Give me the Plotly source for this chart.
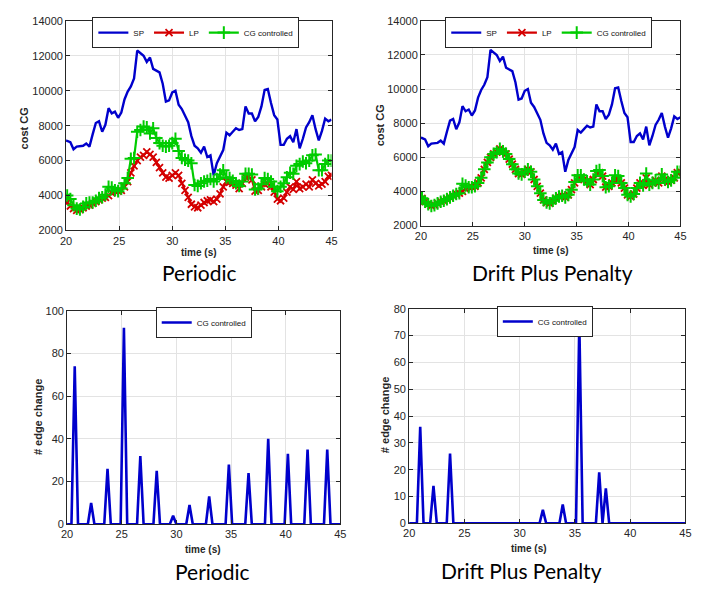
import plotly.graph_objects as go

# page body has an 8px default margin, so the figure is 8px smaller than the window
W, H = 706, 583
OFF = 8

# ---------------- data ----------------
time_s = [19.8, 20.1, 20.4, 20.7, 21.0, 21.3, 21.6, 21.9, 22.2, 22.5,
          22.8, 23.1, 23.4, 23.7, 24.0, 24.3, 24.6, 24.9, 25.2, 25.5,
          25.8, 26.1, 26.4, 26.7, 27.0, 27.3, 27.6, 27.9, 28.2, 28.5,
          28.8, 29.1, 29.4, 29.7, 30.0, 30.3, 30.6, 30.9, 31.2, 31.5,
          31.8, 32.1, 32.4, 32.7, 33.0, 33.3, 33.6, 33.9, 34.2, 34.5,
          34.8, 35.1, 35.4, 35.7, 36.0, 36.3, 36.6, 36.9, 37.2, 37.5,
          37.8, 38.1, 38.4, 38.7, 39.0, 39.3, 39.6, 39.9, 40.2, 40.5,
          40.8, 41.1, 41.4, 41.7, 42.0, 42.3, 42.6, 42.9, 43.2, 43.5,
          43.8, 44.1, 44.4, 44.7, 45.0]

sp_cost = [7150, 7130, 7050, 6650, 6800, 6820, 6850, 6980, 6800, 7500,
           8150, 8250, 7650, 8050, 9000, 8700, 8800, 8450, 8750, 9500,
           9950, 10250, 10700, 12300, 12150, 12000, 11650, 11900, 11250, 11150,
           11050, 10400, 9380, 9450, 9900, 10000, 9200, 8950, 8600, 8200,
           7400, 6850, 6700, 6450, 6800, 6200, 6300, 5150, 5850, 6250,
           6600, 7600, 7450, 7650, 7850, 7750, 7800, 9100, 8700, 8700,
           8250, 8500, 9100, 10050, 10100, 9300, 8600, 8350, 6900, 6900,
           7250, 7400, 7050, 7800, 6700, 7250, 7900, 8200, 8600, 7800,
           7150, 7700, 8400, 8250, 8350]

lp_cost = [3700, 3600, 3400, 3250, 3150, 3200, 3300, 3400, 3450, 3550,
           3650, 3750, 3850, 3900, 4000, 4150, 4250, 4250, 4300, 4500,
           4800, 5300, 5700, 6000, 6200, 6300, 6500, 6350, 6200, 5900,
           5600, 5300, 5050, 5000, 5150, 5300, 5150, 4700, 4300, 3900,
           3500, 3350, 3300, 3450, 3600, 3700, 3750, 3650, 3800, 4100,
           4500, 4800, 4750, 4700, 4600, 4400, 4700, 5050, 5100, 4900,
           4250, 4300, 4500, 4650, 4700, 4500, 4200, 3800, 3700, 3850,
           4200, 4500, 4350, 4800, 4400, 4500, 4650, 4500, 4900, 4700,
           4550, 4650, 4800, 5100, 5150]

cg_cost_periodic = [4050, 4000, 3800, 3450, 3250, 3200, 3350, 3550, 3600, 3600,
                    3700, 3850, 3900, 4050, 4500, 4450, 4300, 4250, 4400, 4700,
                    5000, 6100, 6150, 7650, 7750, 7950, 7900, 7550, 7850, 7300,
                    7000, 6850, 6800, 6850, 7000, 7250, 6550, 6150, 6050, 6000,
                    5850, 4600, 4550, 4700, 4800, 4850, 4950, 4800, 4950, 5200,
                    5450, 5050, 5000, 4850, 4700, 4550, 4800, 5250, 5250, 5200,
                    4350, 4400, 4650, 5000, 4950, 4800, 4500, 4250, 4500, 4700,
                    5050, 5300, 5250, 5700, 5800, 5950, 5850, 6000, 6300, 6350,
                    5450, 5450, 5800, 6000, 6000]

cg_cost_dpp = [3700, 3600, 3400, 3250, 3150, 3200, 3300, 3400, 3450, 3550,
               3650, 3750, 3850, 3900, 4450, 4350, 4250, 4250, 4300, 4500,
               4800, 5300, 5700, 6000, 6200, 6300, 6500, 6350, 6200, 5900,
               5600, 5300, 5050, 5000, 5150, 5300, 5150, 4700, 4300, 3900,
               3500, 3350, 3300, 3450, 3600, 3700, 3750, 3650, 3800, 4100,
               4550, 4950, 4950, 4700, 4600, 4400, 4700, 5200, 5250, 4900,
               4250, 4300, 4500, 4950, 4900, 4500, 4200, 3800, 3700, 3850,
               4200, 4500, 4350, 5050, 4400, 4500, 4650, 4500, 5000, 4700,
               4550, 4650, 4800, 5150, 5150]

edge_periodic = [0, 0, 0, 74, 0, 0, 0, 0, 10, 0,
                 0, 0, 0, 26, 0, 0, 0, 0, 92, 0,
                 0, 0, 0, 32, 0, 0, 0, 0, 25, 0,
                 0, 0, 0, 4, 0, 0, 0, 0, 9, 0,
                 0, 0, 0, 0, 13, 0, 0, 0, 0, 0,
                 28, 0, 0, 0, 0, 0, 24, 0, 0, 0,
                 0, 0, 40, 0, 0, 0, 0, 0, 33, 0,
                 0, 0, 0, 0, 35, 0, 0, 0, 0, 0,
                 35, 0, 0, 0, 0]

edge_dpp = [0, 0, 0, 0, 36, 0, 0, 0, 14, 0,
            0, 0, 0, 26, 0, 0, 0, 0, 0, 0,
            0, 0, 0, 0, 0, 0, 0, 0, 0, 0,
            0, 0, 0, 0, 0, 0, 0, 0, 0, 0,
            0, 5, 0, 0, 0, 0, 0, 7, 0, 0,
            0, 0, 75, 0, 0, 0, 0, 0, 19, 0,
            13, 0, 0, 0, 0, 0, 0, 0, 0, 0,
            0, 0, 0, 0, 0, 0, 0, 0, 0, 0,
            0, 0, 0, 0, 0]

x_ticks = [20, 25, 30, 35, 40, 45]
cost_ticks = [2000, 4000, 6000, 8000, 10000, 12000, 14000]
edge_ticks_periodic = [0, 20, 40, 60, 80, 100]
edge_ticks_dpp = [0, 10, 20, 30, 40, 50, 60, 70, 80]

# ---------------- style ----------------
BLUE = "#0000cc"
RED = "#d40000"
GREEN = "#00cc00"
AX = "#262626"
FONT = "Arial"

def px_x(p):
    return (p - OFF) / W

def px_y(p):
    return 1 - (p - OFF) / H

fig = go.Figure()

def cost_traces(xa, ya, cg, leg):
    fig.add_trace(go.Scatter(x=time_s, y=sp_cost, mode="lines", name="SP",
                             line=dict(color=BLUE, width=2.4),
                             xaxis=xa, yaxis=ya, legend=leg))
    fig.add_trace(go.Scatter(x=time_s, y=lp_cost, mode="lines+markers", name="LP",
                             line=dict(color=RED, width=2.2),
                             marker=dict(symbol="x-thin", size=7, color=RED,
                                         line=dict(color=RED, width=1.8)),
                             xaxis=xa, yaxis=ya, legend=leg))
    fig.add_trace(go.Scatter(x=time_s, y=cg, mode="lines+markers", name="CG controlled",
                             line=dict(color=GREEN, width=2.2),
                             marker=dict(symbol="cross-thin", size=9, color=GREEN,
                                         line=dict(color=GREEN, width=2)),
                             xaxis=xa, yaxis=ya, legend=leg))

cost_traces("x", "y", cg_cost_periodic, "legend")
cost_traces("x2", "y2", cg_cost_dpp, "legend2")

fig.add_trace(go.Scatter(x=time_s, y=edge_periodic, mode="lines", name="CG controlled",
                         line=dict(color=BLUE, width=2.6),
                         xaxis="x3", yaxis="y3", legend="legend3"))
fig.add_trace(go.Scatter(x=time_s, y=edge_dpp, mode="lines", name="CG controlled",
                         line=dict(color=BLUE, width=2.6),
                         xaxis="x4", yaxis="y4", legend="legend4"))

def axis(domain, rng, ticks, anchor):
    return dict(domain=domain, range=rng, tickvals=ticks, anchor=anchor, tickformat="d",
                showline=True, mirror="allticks", linecolor=AX, linewidth=1,
                ticks="inside", ticklen=4, tickcolor=AX, tickwidth=1,
                showgrid=True, gridcolor="#e3e3e3", gridwidth=1, zeroline=False,
                tickfont=dict(family=FONT, size=11, color=AX))

boxes = {
    1: (61, 331, 15, 229),
    2: (422, 686, 15, 224),
    3: (62, 340, 311, 529),
    4: (410, 691, 309, 528),
}
ranges = {1: ([2000, 14000], cost_ticks), 2: ([2000, 14000], cost_ticks),
          3: ([0, 100], edge_ticks_periodic), 4: ([0, 80], edge_ticks_dpp)}

layout = {}
for i, (x0, x1, y0, y1) in boxes.items():
    sfx = "" if i == 1 else str(i)
    layout["xaxis" + sfx] = axis([px_x(x0), px_x(x1)], [20, 45], x_ticks, "y" + sfx)
    yr, yt = ranges[i]
    layout["yaxis" + sfx] = axis([px_y(y1), px_y(y0)], yr, yt, "x" + sfx)

def legend(cx, cy):
    return dict(orientation="h", x=px_x(cx), y=px_y(cy), xanchor="center", yanchor="middle",
                bgcolor="white", bordercolor=AX, borderwidth=1,
                font=dict(family=FONT, size=8, color="#111111"),
                itemwidth=30, tracegroupgap=0)

layout["legend"] = legend(193, 27)
layout["legend2"] = legend(552, 27)
layout["legend3"] = legend(201, 323)
layout["legend4"] = legend(548, 322)

annotations = []

def text(s, x, y, size, bold=False, angle=0, family=FONT):
    annotations.append(dict(text=("<b>%s</b>" % s) if bold else s, x=px_x(x), y=px_y(y),
                            xref="paper", yref="paper", showarrow=False,
                            xanchor="center", yanchor="middle", textangle=angle,
                            font=dict(family=family, size=size, color="#000000" if not bold else AX)))

text("cost CG", 18, 125, 11, bold=True, angle=-90)
text("cost CG", 380, 122, 11, bold=True, angle=-90)
text("time (s)", 196, 252, 10, bold=True)
text("time (s)", 554, 249, 10, bold=True)
text("# edge change", 32, 420, 11, bold=True, angle=-90)
text("# edge change", 385, 418, 11, bold=True, angle=-90)
text("time (s)", 200, 555, 10, bold=True)
text("time (s)", 532, 554, 10, bold=True)

BIG = "Lato, Open Sans, sans-serif"
text("Periodic", 197, 272, 21, family=BIG)
text("Drift Plus Penalty", 556, 272, 21, family=BIG)
text("Periodic", 210, 577, 21, family=BIG)
text("Drift Plus Penalty", 524, 576, 21, family=BIG)

fig.update_layout(width=W, height=H, margin=dict(l=0, r=0, t=0, b=0),
                  paper_bgcolor="white", plot_bgcolor="white",
                  annotations=annotations, **layout)

fig.write_html("out.html")
